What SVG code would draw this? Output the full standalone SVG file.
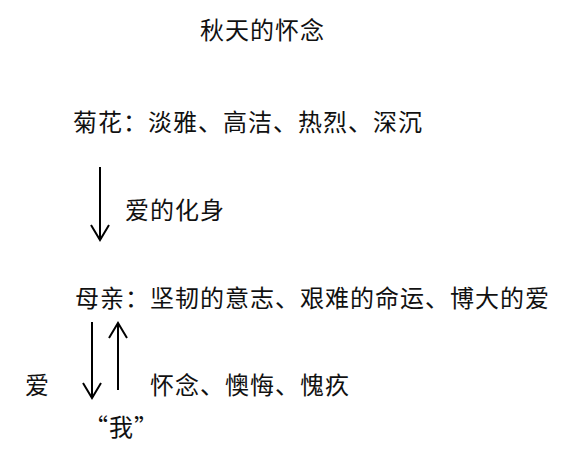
<svg xmlns="http://www.w3.org/2000/svg" width="571" height="464" viewBox="0 0 571 464">
<style>
text{font-family:"Noto Sans CJK SC","Noto Sans",sans-serif;font-size:24px;fill:#111;letter-spacing:1px}
.ln{stroke:#000;stroke-width:2;fill:none}
</style>
<rect width="571" height="464" fill="#fff"/>
<g id="title"><text x="200" y="39">秋天的怀念</text></g>
<g id="juhua"><text x="73" y="131">菊花：淡雅、高洁、热烈、深沉</text></g>
<g id="muqin"><text x="75" y="307">母亲：坚韧的意志、艰难的命运、博大的爱</text></g>
<g id="wo"><text x="84" y="436">“我”</text></g>
<g id="connectors">
<g id="c1"><path class="ln" d="M100 167V240M91 225L100 240L109 225"/><text x="125" y="219">爱的化身</text></g>
<g id="c2"><path class="ln" d="M92 322V398M83 383L92 398L101 383"/><text x="25" y="394">爱</text></g>
<g id="c3"><path class="ln" d="M118 390V323M109 338L118 323L127 338"/><text x="150" y="394">怀念、懊悔、愧疚</text></g>
</g>
</svg>
